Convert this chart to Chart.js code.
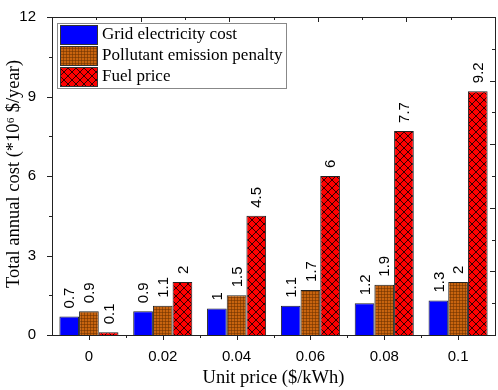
<!DOCTYPE html>
<html>
<head>
<meta charset="utf-8">
<script src="https://cdn.jsdelivr.net/npm/chart.js@4.4.0/dist/chart.umd.min.js"></script>
<style>
  html, body { margin: 0; padding: 0; background: #fff; }
  #wrap { width: 498px; height: 390px; }
</style>
</head>
<body>
<div id="wrap"><canvas id="chart"></canvas></div>
<script>
const categories = ['0', '0.02', '0.04', '0.06', '0.08', '0.1'];
const gridCost = [0.7, 0.9, 1, 1.1, 1.2, 1.3];
const pollutantPenalty = [0.9, 1.1, 1.5, 1.7, 1.9, 2];
const fuelPrice = [0.1, 2, 4.5, 6, 7.7, 9.2];
const yTicks = [0, 3, 6, 9, 12];
const xTitle = 'Unit price ($/kWh)';
const yTitle = 'Total annual cost (*10\u2076 $/year)';

// fill patterns
function makePattern(size, draw) {
    const c = document.createElement('canvas');
    c.width = size;
    c.height = size;
    draw(c.getContext('2d'), size);
    return document.getElementById('chart').getContext('2d').createPattern(c, 'repeat');
}

const orangeFill = makePattern(3, (g, s) => {
    g.fillStyle = '#c8640f';
    g.fillRect(0, 0, s, s);
    g.fillStyle = 'rgba(110,50,0,0.55)';
    g.fillRect(0, 0, s, 1);
    g.fillRect(0, 0, 1, s);
});

const redFill = makePattern(8, (g, s) => {
    g.fillStyle = '#ff0000';
    g.fillRect(0, 0, s, s);
    g.strokeStyle = '#000';
    g.lineWidth = 0.8;
    g.beginPath();
    g.moveTo(0, 0); g.lineTo(s, s);
    g.moveTo(s, 0); g.lineTo(0, s);
    g.stroke();
});

const sansFont = "'Liberation Sans', Arial, sans-serif";
const serifFont = "'Liberation Serif', 'Times New Roman', serif";

const valueLabels = {
    id: 'valueLabels',
    afterDatasetsDraw(chart) {
        const ctx = chart.ctx;
        ctx.save();
        ctx.fillStyle = '#000';
        ctx.font = '15px ' + sansFont;
        ctx.textAlign = 'left';
        ctx.textBaseline = 'middle';
        chart.data.datasets.forEach((ds, i) => {
            chart.getDatasetMeta(i).data.forEach((bar, j) => {
                ctx.save();
                ctx.translate(bar.x + 1, bar.y - 8);
                ctx.rotate(-Math.PI / 2);
                ctx.fillText(String(ds.data[j]), 0, 0);
                ctx.restore();
            });
        });
        ctx.restore();
    }
};

const frameAndLegend = {
    id: 'frameAndLegend',
    afterDraw(chart) {
        const ctx = chart.ctx;
        const a = chart.chartArea;
        const x = chart.scales.x;
        const y = chart.scales.y;
        ctx.save();
        ctx.strokeStyle = '#222';
        ctx.lineWidth = 1;
        ctx.strokeRect(Math.round(a.left) + 0.5, Math.round(a.top) + 0.5,
            Math.round(a.right - a.left), Math.round(a.bottom - a.top));

        ctx.beginPath();
        // left ticks, outward
        for (let v = 0; v <= 12; v += 1.5) {
            const py = Math.round(y.getPixelForValue(v)) + 0.5;
            const len = v % 3 === 0 ? 5 : 3;
            ctx.moveTo(a.left, py); ctx.lineTo(a.left - len, py);
        }
        // bottom ticks, outward
        const step = (a.right - a.left) / categories.length;
        categories.forEach((c, i) => {
            const px = Math.round(x.getPixelForValue(i)) + 0.5;
            ctx.moveTo(px, a.bottom); ctx.lineTo(px, a.bottom + 5);
        });
        for (let i = 1; i < categories.length; i++) {
            const px = Math.round(a.left + i * step) + 0.5;
            ctx.moveTo(px, a.bottom); ctx.lineTo(px, a.bottom + 3);
        }
        // top and right ticks, inward
        for (let i = 1; i < 10; i++) {
            const px = Math.round(a.left + i * (a.right - a.left) / 10) + 0.5;
            const len = i % 2 === 0 ? 5 : 3;
            ctx.moveTo(px, a.top); ctx.lineTo(px, a.top + len);
            const py = Math.round(a.top + i * (a.bottom - a.top) / 10) + 0.5;
            ctx.moveTo(a.right, py); ctx.lineTo(a.right - len, py);
        }
        ctx.stroke();

        // axis titles
        ctx.fillStyle = '#000';
        ctx.font = '18.5px ' + serifFont;
        ctx.textAlign = 'center';
        ctx.textBaseline = 'middle';
        ctx.fillText(xTitle, (a.left + a.right) / 2, 378);
        ctx.save();
        ctx.translate(14, (a.top + a.bottom) / 2 - 2);
        ctx.rotate(-Math.PI / 2);
        ctx.fillText(yTitle, 0, 0);
        ctx.restore();

        // legend
        const lx = a.left + 5, ly = a.top + 6, lw = 229, lh = 65;
        ctx.strokeStyle = '#888';
        ctx.strokeRect(lx + 0.5, ly + 0.5, lw, lh);
        ctx.font = '17px ' + serifFont;
        ctx.textAlign = 'left';
        chart.data.datasets.forEach((ds, i) => {
            const sy = ly + 2 + i * 21;
            ctx.fillStyle = ds.backgroundColor;
            ctx.fillRect(lx + 3, sy, 37, 19);
            ctx.strokeStyle = '#333';
            ctx.strokeRect(lx + 3.5, sy + 0.5, 37, 19);
            ctx.fillStyle = '#000';
            ctx.fillText(ds.label, lx + 45, sy + 10);
        });
        ctx.restore();
    }
};

new Chart(document.getElementById('chart'), {
    type: 'bar',
    data: {
        labels: categories,
        datasets: [
            { label: 'Grid electricity cost', data: gridCost, backgroundColor: '#0000ff' },
            { label: 'Pollutant emission penalty', data: pollutantPenalty, backgroundColor: orangeFill },
            { label: 'Fuel price', data: fuelPrice, backgroundColor: redFill }
        ]
    },
    options: {
        responsive: true,
        maintainAspectRatio: false,
        animation: false,
        layout: { padding: { top: 8, right: 3, left: 0, bottom: 0 } },
        datasets: {
            bar: {
                categoryPercentage: 0.8,
                barPercentage: 1.0,
                borderColor: '#222',
                borderWidth: 1
            }
        },
        plugins: {
            legend: { display: false },
            tooltip: { enabled: false }
        },
        scales: {
            x: {
                grid: { display: false },
                border: { display: false },
                ticks: { color: '#000', padding: 5, font: { family: sansFont, size: 15 } },
                afterFit(scale) { scale.height = 55; }
            },
            y: {
                min: 0,
                max: 12,
                afterBuildTicks(scale) { scale.ticks = yTicks.map(v => ({ value: v })); },
                grid: { display: false },
                border: { display: false },
                ticks: { color: '#000', padding: 8, font: { family: sansFont, size: 15 } },
                afterFit(scale) { scale.width = 52; }
            }
        }
    },
    plugins: [valueLabels, frameAndLegend]
});
</script>
</body>
</html>
